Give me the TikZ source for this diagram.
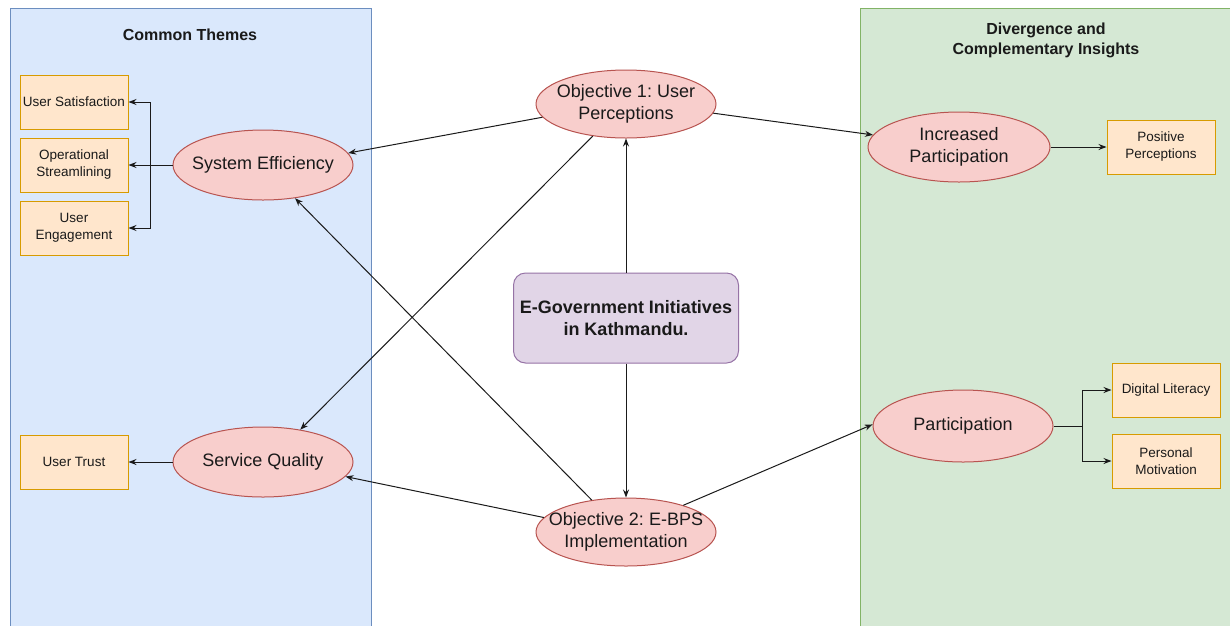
\documentclass[tikz,border=0pt]{standalone}
\usepackage{fontspec}
\setmainfont{Liberation Sans}
\frenchspacing
\usetikzlibrary{shapes.geometric,arrows.meta,calc}
\definecolor{bluefill}{HTML}{DAE8FC}
\definecolor{bluedraw}{HTML}{6C8EBF}
\definecolor{greenfill}{HTML}{D5E8D4}
\definecolor{greendraw}{HTML}{82B366}
\definecolor{redfill}{HTML}{F8CECC}
\definecolor{reddraw}{HTML}{B85450}
\definecolor{orangefill}{HTML}{FFE6CC}
\definecolor{orangedraw}{HTML}{D79B00}
\definecolor{purplefill}{HTML}{E1D5E7}
\definecolor{purpledraw}{HTML}{9673A6}
\definecolor{ink}{HTML}{1A1A1A}
\tikzset{
  panelL/.style={fill=bluefill,draw=bluedraw,line width=1pt},
  panelR/.style={fill=greenfill,draw=greendraw,line width=1pt},
  oval/.style={ellipse,fill=redfill,draw=reddraw,line width=1pt,inner sep=0pt,
    minimum width=180pt,minimum height=70pt},
  ovaltext/.style={align=center,text=ink,inner sep=0pt,
    font=\fontsize{18}{21.5}\selectfont},
  leaf/.style={rectangle,fill=orangefill,draw=orangedraw,line width=1pt,inner sep=0pt,
    minimum width=108pt,minimum height=54pt,align=center,text=ink,
    font=\fontsize{13.5}{17}\selectfont},
  core/.style={rectangle,rounded corners=12pt,fill=purplefill,draw=purpledraw,line width=1pt,
    minimum width=225pt,minimum height=90pt,align=center,text=ink,
    font=\bfseries\fontsize{18}{22}\selectfont},
  ttl/.style={align=center,text=ink,font=\bfseries\fontsize{16}{20}\selectfont},
  link/.style={draw=ink,line width=1pt,-{Stealth[length=8pt,width=6pt]}},
}
\begin{document}
\begin{tikzpicture}[x=1pt,y=-1pt]
\useasboundingbox (0,0) rectangle (1230,625);
\fill[white] (0,0) rectangle (1230,625);
% panels
\draw[panelL] (10,8) rectangle (371,632);
\draw[panelR] (860,8) rectangle (1236,632);
\node[ttl] (tl) at (190,35) {Common Themes};
\node[ttl] (tr) at (1046,40) {Divergence and\\Complementary Insights};
% nodes
\node[oval,minimum height=68pt,label={[ovaltext]center:Objective 1: User\\Perceptions}] (obj1) at (626,104) {};
\node[oval,minimum height=68pt,label={[ovaltext]center:Objective 2: E-BPS\\Implementation}] (obj2) at (626,532) {};
\node[core] (core) at (626,318) {E-Government Initiatives\\in Kathmandu.};
\node[oval,label={[ovaltext]center:System Efficiency}] (se) at (263,165) {};
\node[oval,label={[ovaltext]center:Service Quality}] (sq) at (263,462) {};
\node[oval,minimum width=182pt,label={[ovaltext]center:Increased\\Participation}] (ip) at (959,147) {};
\node[oval,minimum height=72pt,label={[ovaltext]center:Participation}] (pa) at (963,426) {};
\node[leaf] (us) at (74,102) {User Satisfaction};
\node[leaf] (os) at (74,165) {Operational\\Streamlining};
\node[leaf] (ue) at (74,228) {User\\Engagement};
\node[leaf] (ut) at (74,462) {User Trust};
\node[leaf] (pp) at (1161,147) {Positive\\Perceptions};
\node[leaf] (dl) at (1166,390) {Digital Literacy};
\node[leaf] (pm) at (1166,461) {Personal\\Motivation};
% branch coordinates
\coordinate (bl) at (150,165);
\coordinate (br) at (1082,426);
% connectors
\draw[link] (core.north) -- (obj1.south);
\draw[link] (core.south) -- (obj2.north);
\draw[link] (obj1.189) -- (se.8);
\draw[link] (obj1.-6) -- (ip.172);
\draw[link] (obj1.224) -- (sq.41);
\draw[link] (obj2.137) -- (se.-46);
\draw[link] (obj2.170) -- (sq.-10);
\draw[link] (obj2.25) -- (pa.179);
\draw[link] (ip.east) -- (pp.west);
\draw[link] (sq.west) -- (ut.east);
\draw[link] (se.west) -- (os.east);
\draw[link] (se.west) -- (bl) |- (us.east);
\draw[link] (bl) |- (ue.east);
\draw[link] (pa.east) -- (br) |- (dl.west);
\draw[link] (br) |- (pm.west);
\end{tikzpicture}
\end{document}
